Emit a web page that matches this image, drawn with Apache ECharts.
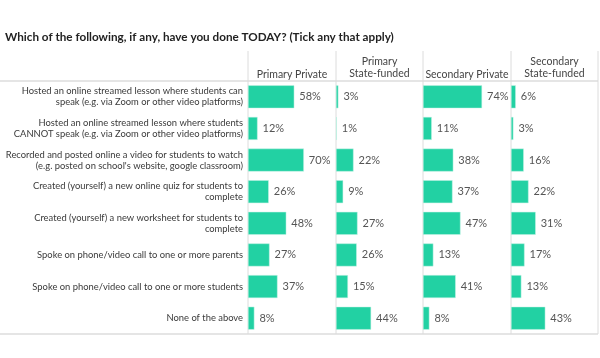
<!DOCTYPE html>
<html>
<head>
<meta charset="utf-8">
<script src="https://cdn.jsdelivr.net/npm/echarts@6/dist/echarts.min.js"></script>
<style>html,body{margin:0;padding:0;background:#fff}#c{width:600px;height:358px}</style>
</head>
<body>
<div id="c"></div>
<script>
const categories = [
  "Hosted an online streamed lesson where students can\nspeak (e.g. via Zoom or other video platforms)",
  "Hosted an online streamed lesson where students\nCANNOT speak (e.g. via Zoom or other video platforms)",
  "Recorded and posted online a video for students to watch\n(e.g. posted on school's website, google classroom)",
  "Created (yourself) a new online quiz for students to\ncomplete",
  "Created (yourself) a new worksheet for students to\ncomplete",
  "Spoke on phone/video call to one or more parents",
  "Spoke on phone/video call to one or more students",
  "None of the above"
];
const groups = ["Primary Private", "Primary\nState-funded", "Secondary Private", "Secondary\nState-funded"];
const primaryPrivate = [58, 12, 70, 26, 48, 27, 37, 8];
const primaryState = [3, 1, 22, 9, 27, 26, 15, 44];
const secondaryPrivate = [74, 11, 38, 37, 47, 13, 41, 8];
const secondaryState = [6, 3, 16, 22, 31, 17, 13, 43];
const seriesValues = [primaryPrivate, primaryState, secondaryPrivate, secondaryState];

const FONT = 'Lato';
const colLeft = [248, 336, 423, 511];
const colW = 87;
const gridTop = 81, gridBottom = 334;
const barColor = '#22d1a3';
const lineColor = '#dcdcdc';

const grids = [], xAxes = [], yAxes = [], series = [], graphics = [];
seriesValues.forEach((vals, i) => {
  grids.push({ left: colLeft[i], top: gridTop, width: colW, height: gridBottom - gridTop, containLabel: false, outerBoundsMode: 'none' });
  xAxes.push({ gridIndex: i, type: 'value', min: 0, max: 109, show: false });
  yAxes.push({
    gridIndex: i, type: 'category', data: categories, inverse: true,
    axisLine: { show: false }, axisTick: { show: false },
    axisLabel: i === 0 ? { show: true, margin: 5, color: '#3a3a3a', fontFamily: FONT, fontSize: 9.4, lineHeight: 11, align: 'right' } : { show: false }
  });
  series.push({
    type: 'bar', xAxisIndex: i, yAxisIndex: i, data: vals, barWidth: 23,
    itemStyle: { color: barColor, borderColor: '#c9f3e6', borderWidth: 0.5 },
    label: { show: true, position: 'right', distance: 5, formatter: '{c}%', color: '#555', fontFamily: FONT, fontSize: 11 },
    silent: true, animation: false
  });
  const cx = colLeft[i] + (i < 3 ? (colLeft[i + 1] - colLeft[i]) : (598 - colLeft[i])) / 2;
  graphics.push({
    type: 'text', x: cx, y: groups[i].includes('\n') ? 68 : 75,
    style: { text: groups[i], x: 0, y: 0, align: 'center', verticalAlign: 'middle', fill: '#444', font: '10.5px ' + FONT, lineHeight: 12 }
  });
});
// separators
[248, 336, 423, 511, 598].forEach(x => {
  graphics.push({ type: 'line', shape: { x1: x, y1: 51, x2: x, y2: gridBottom }, style: { stroke: lineColor, lineWidth: 1 } });
});
graphics.push({ type: 'line', shape: { x1: 0, y1: gridTop, x2: 598, y2: gridTop }, style: { stroke: lineColor, lineWidth: 1.5 } });
graphics.push({ type: 'line', shape: { x1: 0, y1: gridBottom, x2: 598, y2: gridBottom }, style: { stroke: lineColor, lineWidth: 1.5 } });

const chart = echarts.init(document.getElementById('c'), null, { renderer: 'canvas' });
chart.setOption({
  animation: false,
  title: { text: 'Which of the following, if any, have you done TODAY? (Tick any that apply)', left: 0, top: 26,
    textStyle: { fontFamily: FONT, fontSize: 11.7, fontWeight: 'bold', color: '#222' } },
  grid: grids, xAxis: xAxes, yAxis: yAxes, series: series, graphic: graphics
});
</script>
</body>
</html>
